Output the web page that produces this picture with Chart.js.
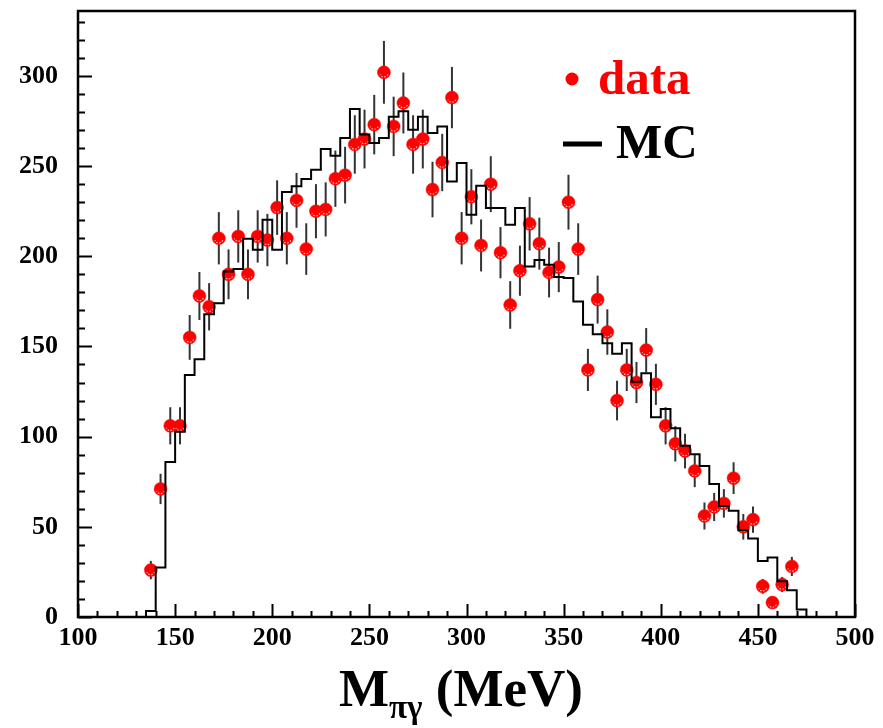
<!DOCTYPE html>
<html>
<head>
<meta charset="utf-8">
<script src="https://cdn.jsdelivr.net/npm/chart.js@4/dist/chart.umd.min.js"></script>
<style>
  html, body { margin: 0; padding: 0; background: #fff; }
  #wrap { width: 883px; height: 728px; }
</style>
</head>
<body>
<div id="wrap"><canvas id="c" width="883" height="728"></canvas></div>
<script>
// Bin centres of the M(pi gamma) histogram, 5 MeV bins from 135 to 475 MeV
const binCenters = [
  137.5, 142.5, 147.5, 152.5, 157.5, 162.5, 167.5, 172.5, 177.5, 182.5,
  187.5, 192.5, 197.5, 202.5, 207.5, 212.5, 217.5, 222.5, 227.5, 232.5,
  237.5, 242.5, 247.5, 252.5, 257.5, 262.5, 267.5, 272.5, 277.5, 282.5,
  287.5, 292.5, 297.5, 302.5, 307.5, 312.5, 317.5, 322.5, 327.5, 332.5,
  337.5, 342.5, 347.5, 352.5, 357.5, 362.5, 367.5, 372.5, 377.5, 382.5,
  387.5, 392.5, 397.5, 402.5, 407.5, 412.5, 417.5, 422.5, 427.5, 432.5,
  437.5, 442.5, 447.5, 452.5, 457.5, 462.5, 467.5, 472.5
];

// Monte Carlo expectation per bin
const mcCounts = [
  3.3, 27.4, 85.9, 102.7, 134.2, 142.9, 167.9, 174.0, 191.6, 192.9,
  209.7, 203.6, 220.3, 203.6, 235.6, 238.8, 242.9, 248.0, 259.5, 255.8,
  265.6, 281.7, 267.5, 262.8, 265.6, 277.3, 280.4, 270.2, 277.3, 268.4,
  272.0, 241.5, 251.7, 223.0, 239.1, 226.8, 226.8, 217.5, 226.8, 194.3,
  198.0, 195.3, 188.5, 188.0, 174.9, 162.0, 156.8, 151.8, 145.9, 151.8,
  130.5, 135.1, 110.7, 115.3, 104.6, 95.0, 90.3, 83.7, 73.7, 61.6,
  58.9, 48.1, 43.5, 31.1, 33.0, 19.8, 14.8, 4.1
];

// Measured events per bin
const dataCounts = [
  26, 71, 106, 106, 155, 178, 172, 210, 190, 211,
  190, 211, 209, 227, 210, 231, 204, 225, 226, 243,
  245, 262, 265, 273, 302, 272, 285, 262, 265, 237,
  252, 288, 210, 233, 206, 240, 202, 173, 192, 218,
  207, 191, 194, 230, 204, 137, 176, 158, 120, 137,
  130, 148, 129, 106, 96, 92, 81, 56, 61, 63,
  77, 50, 54, 17, 8, 18, 28, null
];

// Statistical uncertainty of each measured bin
const dataErrors = [
  5.1, 8.4, 10.3, 10.3, 12.4, 13.3, 13.1, 14.5, 13.8, 14.5,
  13.8, 14.5, 14.5, 15.1, 14.5, 15.2, 14.3, 15.0, 15.0, 15.6,
  15.7, 16.2, 16.3, 16.5, 17.4, 16.5, 16.9, 16.2, 16.3, 15.4,
  15.9, 17.0, 14.5, 15.3, 14.4, 15.5, 14.2, 13.2, 13.9, 14.8,
  14.4, 13.8, 13.9, 15.2, 14.3, 11.7, 13.3, 12.6, 11.0, 11.7,
  11.4, 12.2, 11.4, 10.3, 9.8, 9.6, 9.0, 7.5, 7.8, 7.9,
  8.8, 7.1, 7.3, 4.1, 2.8, 4.2, 5.3, null
];

const xTickLabels = [100, 150, 200, 250, 300, 350, 400, 450, 500];
const yTickLabels = [0, 50, 100, 150, 200, 250, 300];

const BIN_HALF = 2.5;
const SERIF = '"Liberation Serif", "Times New Roman", serif';

// Step outline: one point per lower bin edge, closed down to zero at both ends
const mcPoints = [{ x: binCenters[0] - BIN_HALF, y: 0 }];
binCenters.forEach((c, i) => mcPoints.push({ x: c - BIN_HALF, y: mcCounts[i] }));
mcPoints.push({ x: binCenters[binCenters.length - 1] + BIN_HALF, y: 0 });

const dataPoints = [];
const dataErr = [];
binCenters.forEach((c, i) => {
  if (dataCounts[i] !== null) {
    dataPoints.push({ x: c, y: dataCounts[i] });
    dataErr.push(dataErrors[i]);
  }
});

// Vertical error bars, drawn underneath the markers
const errorBars = {
  id: 'errorBars',
  beforeDatasetsDraw(chart) {
    const { ctx, scales: { x, y } } = chart;
    ctx.save();
    ctx.strokeStyle = '#333';
    ctx.lineWidth = 2;
    dataPoints.forEach((p, i) => {
      const px = x.getPixelForValue(p.x);
      ctx.beginPath();
      ctx.moveTo(px, y.getPixelForValue(p.y - dataErr[i]));
      ctx.lineTo(px, y.getPixelForValue(p.y + dataErr[i]));
      ctx.stroke();
    });
    ctx.restore();
  },
  afterDatasetDraw(chart, args) {
    if (args.index !== 1) return;
    // light sheen on the round markers
    const ctx = chart.ctx;
    ctx.save();
    ctx.strokeStyle = 'rgba(255,215,215,0.9)';
    ctx.lineWidth = 1.1;
    ctx.setLineDash([1.6, 1.4]);
    args.meta.data.forEach(pt => {
      ctx.beginPath();
      ctx.arc(pt.x, pt.y + 0.5, 4.2, 0.12 * Math.PI, 0.88 * Math.PI);
      ctx.stroke();
    });
    ctx.restore();
  }
};

// Frame with inward major/minor ticks, axis title and legend text
const frameAndText = {
  id: 'frameAndText',
  afterDraw(chart) {
    const { ctx, chartArea: a, scales: { x, y } } = chart;
    ctx.save();
    ctx.strokeStyle = '#000';
    ctx.lineWidth = 2.5;
    ctx.strokeRect(a.left, a.top, a.right - a.left, a.bottom - a.top);

    ctx.lineWidth = 2;
    ctx.beginPath();
    for (let v = x.min; v <= x.max + 1e-6; v += 10) {
      const px = Math.round(x.getPixelForValue(v)) + 0.5;
      const len = (v % 50 === 0) ? 13 : 6;
      ctx.moveTo(px, a.bottom);
      ctx.lineTo(px, a.bottom - len);
    }
    for (let v = 0; v <= y.max; v += 10) {
      const py = Math.round(y.getPixelForValue(v)) + 0.5;
      const len = (v % 50 === 0) ? 14 : 7;
      ctx.moveTo(a.left, py);
      ctx.lineTo(a.left + len, py);
    }
    ctx.stroke();

    // axis title M_{pi gamma} (MeV)
    ctx.fillStyle = '#000';
    ctx.textBaseline = 'alphabetic';
    ctx.textAlign = 'left';
    let tx = 339;
    ctx.font = 'bold 53px ' + SERIF;
    ctx.fillText('M', tx, 706);
    tx += ctx.measureText('M').width;
    ctx.font = 'bold 33px ' + SERIF;
    ctx.fillText('πγ', tx, 718);
    tx += ctx.measureText('πγ').width;
    ctx.font = 'bold 53px ' + SERIF;
    ctx.fillText(' (MeV)', tx, 706);

    // legend
    ctx.font = 'bold 49px ' + SERIF;
    ctx.fillStyle = '#ff0000';
    ctx.beginPath();
    ctx.arc(572, 79, 6.5, 0, 2 * Math.PI);
    ctx.fill();
    ctx.fillText('data', 598, 94);
    ctx.fillStyle = '#000';
    ctx.fillRect(563, 141.5, 39, 5);
    ctx.fillText('MC', 616, 158);
    ctx.restore();
  }
};

const tickFont = { family: SERIF, weight: 'bold', size: 26 };

new Chart(document.getElementById('c'), {
  data: {
    datasets: [
      {
        type: 'line',
        label: 'MC',
        data: mcPoints,
        stepped: true,
        borderColor: '#000',
        borderWidth: 2,
        pointRadius: 0,
        fill: false,
        order: 0
      },
      {
        type: 'scatter',
        label: 'data',
        data: dataPoints,
        pointStyle: 'circle',
        pointRadius: 6.5,
        pointBackgroundColor: '#ff0000',
        pointBorderColor: '#ff1010',
        pointBorderWidth: 0.5,
        order: 1
      }
    ]
  },
  options: {
    responsive: false,
    animation: false,
    devicePixelRatio: 1,
    layout: { padding: { top: 11, right: 28, left: 0, bottom: 0 } },
    plugins: { legend: { display: false }, tooltip: { enabled: false } },
    scales: {
      x: {
        type: 'linear',
        position: 'bottom',
        min: xTickLabels[0],
        max: xTickLabels[xTickLabels.length - 1],
        grid: { display: false, drawTicks: false },
        border: { display: false },
        afterBuildTicks(scale) { scale.ticks = xTickLabels.map(v => ({ value: v })); },
        afterFit(scale) { scale.height = 111; scale.paddingLeft = 0; scale.paddingRight = 0; },
        ticks: { font: tickFont, color: '#000', padding: 6, maxRotation: 0, autoSkip: false }
      },
      y: {
        type: 'linear',
        position: 'left',
        min: 0,
        max: 336,
        grid: { display: false, drawTicks: false },
        border: { display: false },
        afterBuildTicks(scale) { scale.ticks = yTickLabels.map(v => ({ value: v })); },
        afterFit(scale) { scale.width = 78; scale.paddingTop = 0; scale.paddingBottom = 0; },
        ticks: { font: tickFont, color: '#000', padding: 20 }
      }
    }
  },
  plugins: [errorBars, frameAndText]
});
</script>
</body>
</html>
